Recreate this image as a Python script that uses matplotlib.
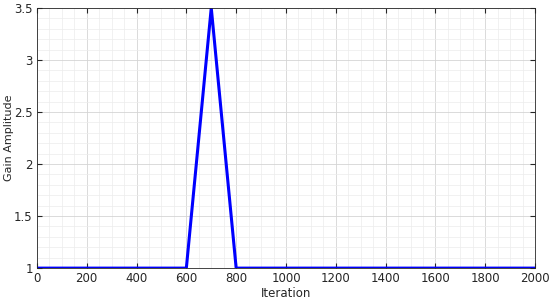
import matplotlib
matplotlib.use("Agg")
import matplotlib.pyplot as plt
from matplotlib.ticker import MultipleLocator

iteration = [0, 600, 700, 800, 2000]
gain = [1, 1, 3.5, 1, 1]

fig = plt.figure(figsize=(5.5, 3.04), dpi=100)
ax = fig.add_axes([0.067, 0.118, 0.906, 0.856])

ax.plot(iteration, gain, color=(0, 0, 1), linewidth=2.2)

ax.set_xlim(0, 2000)
ax.set_ylim(1, 3.5)
ax.xaxis.set_major_locator(MultipleLocator(200))
ax.xaxis.set_minor_locator(MultipleLocator(50))
ax.yaxis.set_major_locator(MultipleLocator(0.5))
ax.yaxis.set_minor_locator(MultipleLocator(0.1))
ax.set_yticks([1, 1.5, 2, 2.5, 3, 3.5])
ax.set_yticklabels(["1", "1.5", "2", "2.5", "3", "3.5"])

ax.grid(which="major", color="#d4d4d4", linewidth=0.6)
ax.grid(which="minor", color="#ececec", linewidth=0.5)
ax.set_axisbelow(True)

ax.tick_params(which="both", direction="in", top=True, right=True,
               labelsize=8.5, colors="#262626", pad=3)
ax.tick_params(which="major", length=3.5, color="#262626")
ax.tick_params(which="minor", length=0)
for s in ax.spines.values():
    s.set_color("#262626")
    s.set_linewidth(0.6)

ax.set_xlabel("Iteration", fontsize=8.5, color="#262626", labelpad=1)
ax.set_ylabel("Gain Amplitude", fontsize=8, color="#262626")
ax.yaxis.set_label_coords(-0.045, 0.5)

fig.savefig("out.png", dpi=100)
